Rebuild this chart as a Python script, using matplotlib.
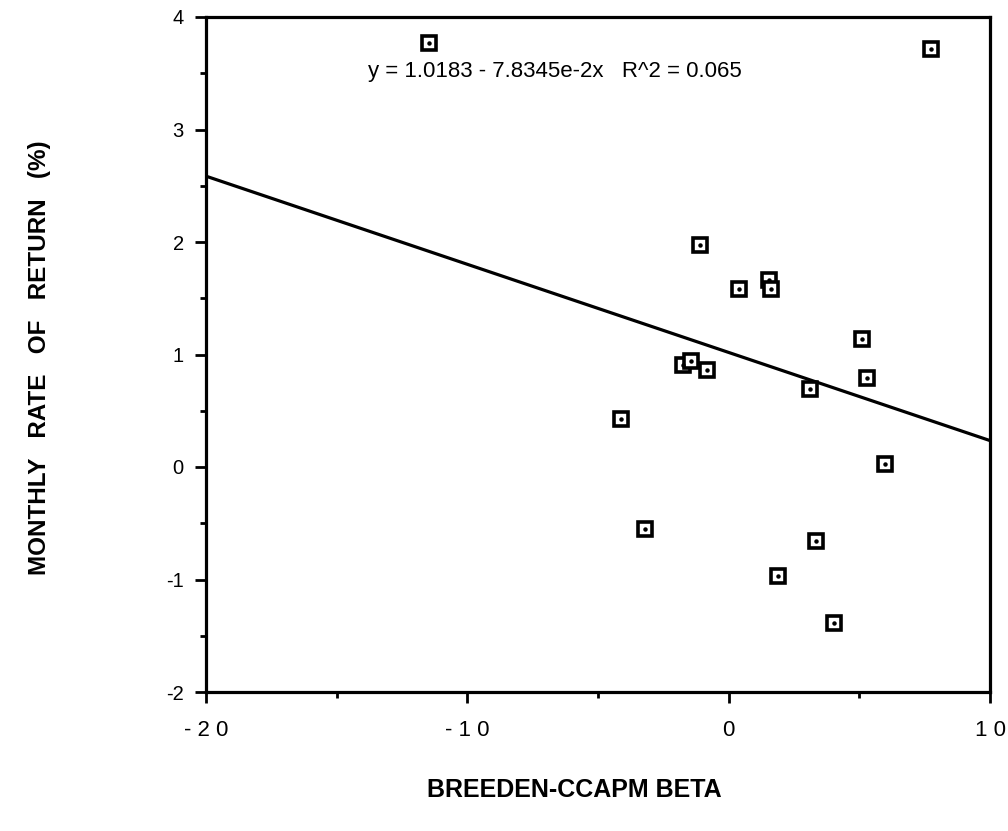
import matplotlib
matplotlib.use("Agg")
import matplotlib.pyplot as plt
import numpy as np

plt.rcParams['font.family'] = ['Liberation Sans', 'DejaVu Sans']

beta = [-11.47, 7.76, -1.11, 0.39, 1.54, 1.63, 5.10, -1.75, -1.43, -0.83,
        3.13, 5.29, -4.11, 6.00, -3.21, 3.33, 1.89, 4.02]
ret = [3.77, 3.72, 1.97, 1.58, 1.66, 1.58, 1.14, 0.91, 0.94, 0.86,
       0.69, 0.79, 0.43, 0.03, -0.55, -0.66, -0.97, -1.39]

intercept = 1.0183
slope = -7.8345e-2

xticks = [-20, -10, 0, 10]
xticklabels = ['- 2 0', '- 1 0', '0', '1 0']
yticks = [-2, -1, 0, 1, 2, 3, 4]
yticklabels = ['-2', '-1', '0', '1', '2', '3', '4']

fig = plt.figure(figsize=(10.08, 8.31), dpi=100)
ax = fig.add_axes([206/1008, 1-692/831, (990-206)/1008, (692-17)/831])

xl = np.array([-20, 10])
ax.plot(xl, intercept + slope*xl, color='black', lw=2.3, zorder=2)
ax.plot(beta, ret, linestyle='none', marker='s', markersize=9.5,
        markerfacecolor='white', markeredgecolor='black', markeredgewidth=2.6, zorder=3)
ax.plot(beta, ret, linestyle='none', marker='o', markersize=2.2,
        color='black', zorder=4)

ax.set_xlim(-20, 10)
ax.set_ylim(-2, 4)
ax.set_xticks(xticks)
ax.set_xticklabels(xticklabels)
ax.set_xticks([-15, -5, 5], minor=True)
ax.set_yticks(yticks)
ax.set_yticklabels(yticklabels)
ax.set_yticks(np.arange(-1.5, 4, 1.0), minor=True)

for s in ax.spines.values():
    s.set_linewidth(2.3)
ax.tick_params(axis='both', which='major', direction='out', length=8, width=2)
ax.tick_params(axis='both', which='minor', direction='out', length=4.5, width=2)
ax.tick_params(axis='x', which='major', pad=12, labelsize=16)
ax.tick_params(axis='y', which='major', pad=8, labelsize=14.5)

ax.text(-20 + (368-206)/26.13, 3.52, 'y = 1.0183 - 7.8345e-2x   R^2 = 0.065',
        fontsize=16, va='center', ha='left')

fig.text(40/1008, 1-358/831, 'MONTHLY   RATE   OF   RETURN   (%)',
         rotation=90, ha='center', va='center', fontsize=17.5, fontweight='bold')
fig.text(574/1008, 1-790/831, 'BREEDEN-CCAPM BETA', ha='center', va='center',
         fontsize=18, fontweight='bold')

fig.savefig('out.png', dpi=100)
